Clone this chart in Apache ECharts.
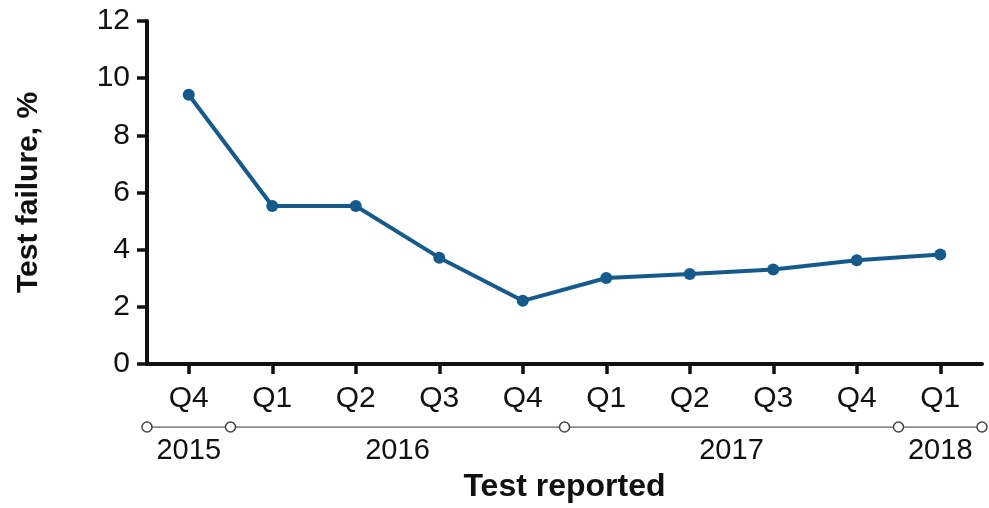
<!DOCTYPE html>
<html>
<head>
<meta charset="utf-8">
<script src="https://cdn.jsdelivr.net/npm/echarts@6/dist/echarts.min.js"></script>
<style>html,body{margin:0;padding:0;background:#fff}#c{width:989px;height:508px}</style>
</head>
<body>
<div id="c"></div>
<script>
const quarters = ['Q4','Q1','Q2','Q3','Q4','Q1','Q2','Q3','Q4','Q1'];
const failureRate = [9.42, 5.53, 5.53, 3.72, 2.21, 3.01, 3.15, 3.31, 3.63, 3.83];
const years = ['2015','2016','2017','2018'];
const quartersPerYear = [1, 4, 4, 1];
const yTicks = [0, 2, 4, 6, 8, 10, 12];

// year bracket boundaries and centres in category-index units
const boundaries = [-0.5];
const yearCenters = [];
let acc = -0.5;
quartersPerYear.forEach(n => { yearCenters.push(acc + n / 2); acc += n; boundaries.push(acc); });

const FONT = "'Liberation Sans', Arial, sans-serif";
const TXT = '#111';
const LINE = '#165a8c';

const chart = echarts.init(document.getElementById('c'), null, {renderer: 'canvas'});
chart.setOption({
  animation: false,
  backgroundColor: '#fff',
  grid: [
    {left: 147, right: 7, top: 21, bottom: 144},
    {left: 147, right: 7, top: 427, height: 24}
  ],
  xAxis: [
    {
      gridIndex: 0, type: 'category', data: quarters, boundaryGap: true,
      axisLine: {lineStyle: {color: '#111', width: 4}},
      axisTick: {show: true, alignWithLabel: true, length: 10, lineStyle: {width: 3.5, color: '#111'}},
      axisLabel: {fontFamily: FONT, fontSize: 30, color: TXT, margin: 20},
      name: 'Test reported', nameLocation: 'middle', nameGap: 107,
      nameTextStyle: {fontFamily: FONT, fontSize: 32, fontWeight: 'bold', color: TXT}
    },
    {
      gridIndex: 1, type: 'value', min: -0.5, max: quarters.length - 0.5, show: false
    }
  ],
  yAxis: [
    {
      gridIndex: 0, type: 'value', min: yTicks[0], max: yTicks[yTicks.length - 1], interval: 2,
      splitLine: {show: false},
      axisLine: {show: true, lineStyle: {color: '#111', width: 4}},
      axisTick: {show: true, length: 10, lineStyle: {width: 3.5, color: '#111'}},
      axisLabel: {fontFamily: FONT, fontSize: 30, color: TXT, margin: 17},
      name: 'Test failure, %', nameLocation: 'middle', nameGap: 103,
      nameTextStyle: {fontFamily: FONT, fontSize: 30, fontWeight: 'bold', color: TXT}
    },
    {gridIndex: 1, type: 'value', min: 0, max: 1, show: false}
  ],
  series: [
    {
      type: 'line', xAxisIndex: 0, yAxisIndex: 0, data: failureRate,
      symbol: 'circle', symbolSize: 12,
      lineStyle: {color: LINE, width: 4},
      itemStyle: {color: LINE}
    },
    {
      type: 'line', xAxisIndex: 1, yAxisIndex: 1,
      data: boundaries.map(b => [b, 1]),
      symbol: 'circle', symbolSize: 10,
      lineStyle: {color: '#666', width: 1.3},
      itemStyle: {color: '#fff', borderColor: '#444', borderWidth: 1.5},
      z: 3
    },
    {
      type: 'scatter', xAxisIndex: 1, yAxisIndex: 1,
      data: yearCenters.map((c, i) => ({value: [c, 0], name: years[i]})),
      symbolSize: 0,
      itemStyle: {opacity: 1},
      label: {show: true, position: 'inside', formatter: p => p.name, fontFamily: FONT, fontSize: 29, color: TXT, opacity: 1}
    }
  ]
});
</script>
</body>
</html>
